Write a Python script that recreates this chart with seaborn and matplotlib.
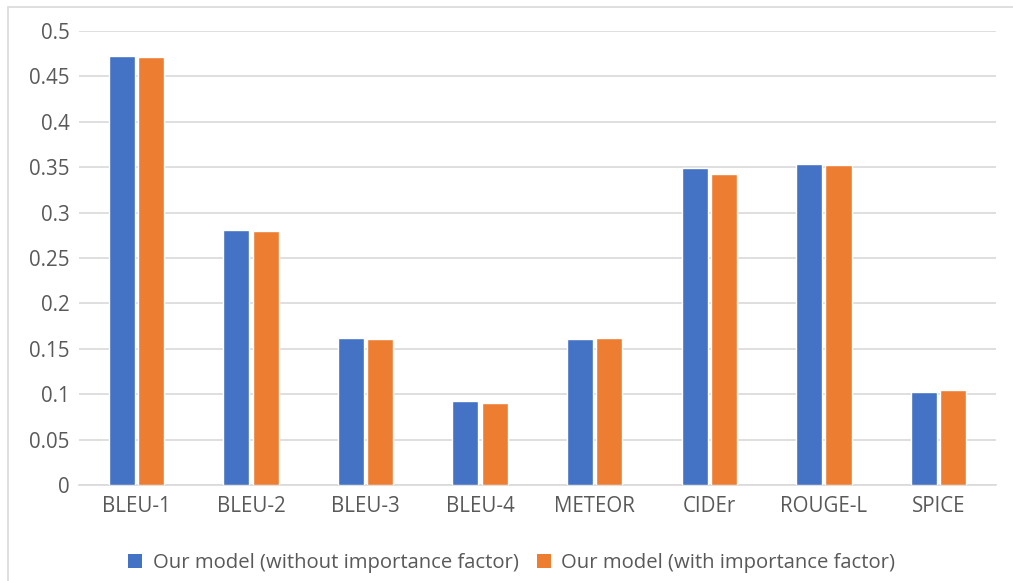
import matplotlib
matplotlib.use("Agg")
import matplotlib.pyplot as plt
from matplotlib.patches import Patch, Rectangle
import seaborn as sns
import pandas as pd

metrics = ["BLEU-1", "BLEU-2", "BLEU-3", "BLEU-4", "METEOR", "CIDEr", "ROUGE-L", "SPICE"]
without_factor = [0.472, 0.281, 0.162, 0.093, 0.161, 0.349, 0.354, 0.102]
with_factor = [0.471, 0.280, 0.161, 0.090, 0.162, 0.343, 0.352, 0.105]
series_names = ["Our model (without importance factor)", "Our model (with importance factor)"]
y_ticks = [0, 0.05, 0.1, 0.15, 0.2, 0.25, 0.3, 0.35, 0.4, 0.45, 0.5]
y_tick_labels = ["0", "0.05", "0.1", "0.15", "0.2", "0.25", "0.3", "0.35", "0.4", "0.45", "0.5"]
colors = ["#4472C4", "#ED7D31"]

df = pd.DataFrame({
    "metric": metrics * 2,
    "score": without_factor + with_factor,
    "model": [series_names[0]] * len(metrics) + [series_names[1]] * len(metrics),
})

sns.set_theme(style="white")
plt.rcParams["font.family"] = ["Open Sans", "DejaVu Sans"]
text_color = "#595959"

fig = plt.figure(figsize=(10.13, 5.81), dpi=100)
ax = fig.add_axes([0.078, 0.1652, 0.905, 0.7814])

sns.barplot(data=df, x="metric", y="score", hue="model", order=metrics,
            hue_order=series_names, palette=colors, width=0.51, gap=0.11,
            saturation=1, legend=False, ax=ax, zorder=3)

ax.set_ylim(0, 0.5)
ax.set_xlim(-0.5, len(metrics) - 0.5)
ax.set_yticks(y_ticks)
ax.set_yticklabels(y_tick_labels)
ax.yaxis.grid(True, color="#D9D9D9", linewidth=1.2, zorder=0)
ax.set_axisbelow(True)
for side in ["top", "right", "left"]:
    ax.spines[side].set_visible(False)
ax.spines["bottom"].set_color("#D9D9D9")
ax.spines["bottom"].set_linewidth(1.2)
ax.tick_params(axis="both", length=0, colors=text_color, labelsize=14.8)
ax.tick_params(axis="y", pad=7)
ax.tick_params(axis="x", pad=8)
ax.set_xlabel("")
ax.set_ylabel("")

handles = [Patch(facecolor=c, edgecolor="none") for c in colors]
fig.legend(handles, series_names, loc="center", bbox_to_anchor=(0.505, 0.031),
           ncol=2, frameon=False, fontsize=14.6, labelcolor=text_color,
           handlelength=0.7, handleheight=0.7, handletextpad=0.5, columnspacing=0.9)

# Thin outline around the chart area
fig.add_artist(Rectangle((8 / 1013, -0.05), 1.1, 1 - 7 / 581 + 0.05,
                         transform=fig.transFigure, fill=False,
                         edgecolor="#D9D9D9", linewidth=1.2))

fig.savefig("out.png", dpi=100)
